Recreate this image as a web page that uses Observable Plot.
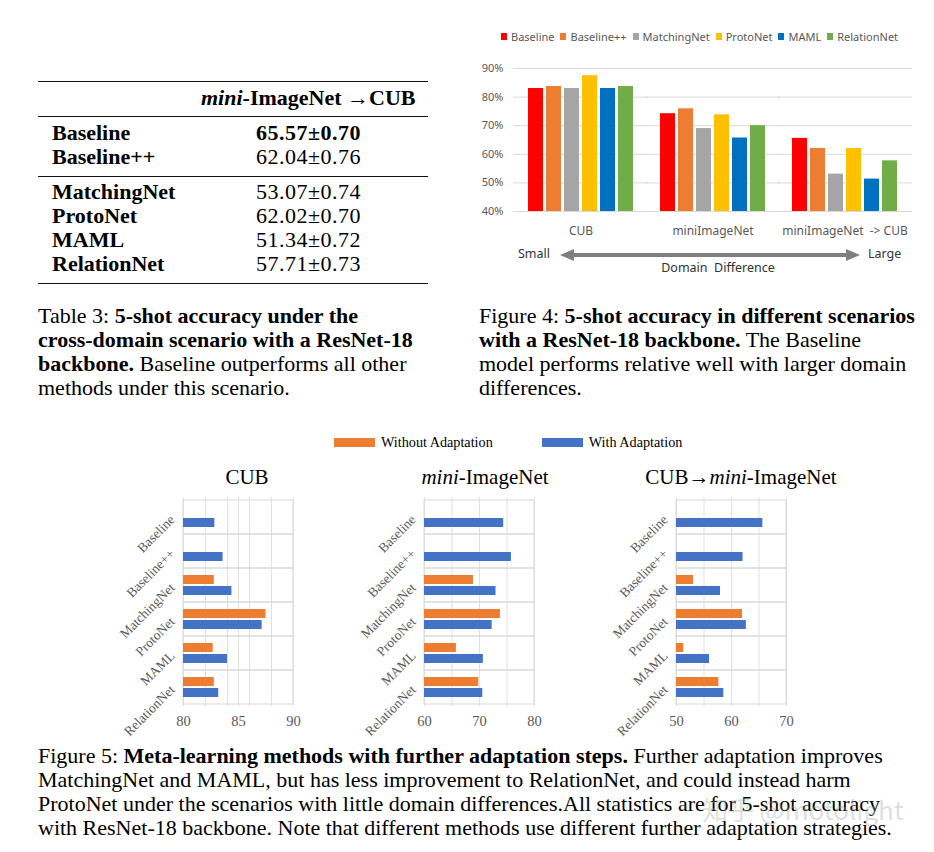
<!DOCTYPE html>
<html><head><meta charset="utf-8">
<script src="https://cdn.jsdelivr.net/npm/d3@7"></script>
<script src="https://cdn.jsdelivr.net/npm/@observablehq/plot@0.6"></script>
<style>
body{margin:0;background:#fff;}
#root{position:relative;width:934px;height:852px;overflow:hidden;font-family:"Liberation Serif","Times New Roman",serif;color:#000;background:#fff;}
.abs{position:absolute;white-space:nowrap;}
.cap{font-size:22px;line-height:24px;}
.rule{position:absolute;left:38px;width:390px;background:#111;}
.trow{position:absolute;font-size:22px;line-height:24px;white-space:nowrap;}
.val{letter-spacing:0.5px;}
.lg4{position:absolute;top:29px;left:501px;display:flex;align-items:center;font-family:"Noto Sans",sans-serif;font-size:11px;color:#595959;}
.lg4 span.sw{display:inline-block;width:6px;height:7px;margin-right:4px;}
.lg4 span.tx{margin-right:6px;}
.lg5{position:absolute;top:433px;font-size:14.2px;line-height:18px;display:flex;align-items:center;}
.lg5 span.sw{display:inline-block;width:41px;height:9px;margin-right:6px;}
.t5{position:absolute;top:464px;font-size:21px;line-height:26px;transform:translateX(-50%);white-space:nowrap;}
</style></head><body><div id="root"></div>
<script>
// ---------- data ----------
const methods = ["Baseline","Baseline++","MatchingNet","ProtoNet","MAML","RelationNet"];
const tableHeader = "mini-ImageNet →CUB";
const tableValues = ["65.57±0.70","62.04±0.76","53.07±0.74","62.02±0.70","51.34±0.72","57.71±0.73"];

const fig4Scenarios = ["CUB","miniImageNet","miniImageNet\u00a0 -> CUB"];
const fig4CUB = [83.0,83.7,83.0,87.5,83.0,83.7];
const fig4Mini = [74.2,75.9,69.0,73.8,65.7,70.0];
const fig4MiniToCUB = [65.57,62.04,53.07,62.02,51.34,57.71];
const fig4YTicks = [40,50,60,70,80,90];
const methodColors = ["#FF0000","#ED7D31","#A5A5A5","#FFC000","#0070C0","#70AD47"];

const fig5Series = ["Without Adaptation","With Adaptation"];
const fig5Colors = ["#ED7D31","#4472C4"];
const cubWithout = [null,null,82.8,87.5,82.7,82.8];
const cubWith = [82.85,83.6,84.4,87.15,84.0,83.2];
const miniWithout = [null,null,68.9,73.8,65.8,69.85];
const miniWith = [74.4,75.8,73.0,72.3,70.7,70.6];
const cubToMiniWithout = [null,null,53.1,62.0,51.3,57.7];
const cubToMiniWith = [65.7,62.1,58.0,62.7,56.0,58.6];
const cubDomain = [80,90], cubTicks = [80,85,90], cubGrid = [80,82,84,85,86,88,90];
const miniDomain = [60,80], miniTicks = [60,70,80], miniGrid = [60,65,70,75,80];
const cubToMiniDomain = [50,70], cubToMiniTicks = [50,60,70], cubToMiniGrid = [50,55,60,65,70];

const root = document.getElementById("root");
function el(tag, cls, html, style){const e=document.createElement(tag); if(cls) e.className=cls; if(html!=null) e.innerHTML=html; if(style) Object.assign(e.style,style); root.appendChild(e); return e;}

// ---------- Table 3 ----------
el("div","rule",null,{top:"80.5px",height:"1.6px"});
el("div","rule",null,{top:"116px",height:"1px"});
el("div","rule",null,{top:"175.5px",height:"1px"});
el("div","rule",null,{top:"282.5px",height:"1.6px"});
el("div","trow","<b><i>mini</i>-ImageNet →CUB</b>",{left:"201px",top:"86px"});
const rowTops = [121,145,180,204,228,252];
methods.forEach((m,i)=>{
  el("div","trow","<b>"+m+"</b>",{left:"52px",top:rowTops[i]+"px"});
  el("div","trow val", i===0? "<b>"+tableValues[i]+"</b>" : tableValues[i],{left:"256px",top:rowTops[i]+"px"});
});

// ---------- captions ----------
function caption(x, y, lines){
  lines.forEach((l,i)=> el("div","abs cap",l,{left:x+"px",top:(y+i*24)+"px"}));
}
caption(38,304,["Table 3: <b>5-shot accuracy under the</b>","<b>cross-domain scenario with a ResNet-18</b>","<b>backbone.</b> Baseline outperforms all other","methods under this scenario."]);
caption(479,304,["Figure 4: <b>5-shot accuracy in different scenarios</b>","<b>with a ResNet-18 backbone.</b> The Baseline","model performs relative well with larger domain","differences."]);
caption(38,744,["Figure 5: <b>Meta-learning methods with further adaptation steps.</b> Further adaptation improves","MatchingNet and MAML, but has less improvement to RelationNet, and could instead harm","ProtoNet under the scenarios with little domain differences.All statistics are for 5-shot accuracy","with ResNet-18 backbone. Note that different methods use different further adaptation strategies."]);
el("div","abs","知乎 @motolight",{left:"702px",top:"790px",fontFamily:"'Noto Sans CJK SC','Noto Sans',sans-serif",fontSize:"26px",color:"rgba(160,160,160,0.35)"});

// ---------- Figure 4 ----------
const lg4 = el("div","lg4");
methods.forEach((m,i)=>{ lg4.innerHTML += `<span class="sw" style="background:${methodColors[i]}"></span><span class="tx">${m}</span>`; });

const fig4Data = fig4Scenarios.flatMap((s,i)=> methods.map((m,j)=>({scenario:s, method:m, value:[fig4CUB,fig4Mini,fig4MiniToCUB][i][j]})));
const fig4 = Plot.plot({
  width:450, height:190, marginLeft:42, marginRight:8, marginTop:13, marginBottom:34,
  style:{fontFamily:"'Noto Sans',sans-serif", fontSize:"11px", color:"#595959", background:"transparent"},
  fx:{domain:fig4Scenarios, paddingInner:0.19, paddingOuter:0.106, label:null, axis:"bottom", tickSize:0, tickPadding:15},
  x:{domain:methods, paddingInner:0.14, paddingOuter:0, axis:null},
  y:{domain:[40,90], ticks:fig4YTicks, tickFormat:d=>d+"%", tickSize:0, tickPadding:24, label:null},
  color:{domain:methods, range:methodColors},
  marks:[
    Plot.ruleY(fig4YTicks,{stroke:"#d9d9d9", strokeWidth:1, insetLeft:-14, insetRight:-14}),
    Plot.barY(fig4Data,{fx:"scenario", x:"method", y1:40, y2:"value", fill:"method"})
  ]
});
Object.assign(fig4.style,{position:"absolute", left:"470px", top:"55px"});
fig4.querySelectorAll("text").forEach(t=>{ t.style.fontSize="11px"; });
fig4.querySelectorAll("[aria-label^='fx-axis'] text").forEach(t=>{ t.style.fontSize="12px"; });
root.appendChild(fig4);

// arrow annotation
el("div","abs",`<svg width="450" height="40" xmlns="http://www.w3.org/2000/svg">
<line x1="100" y1="15" x2="376" y2="15" stroke="#7f7f7f" stroke-width="4"/>
<polygon points="90,15 104,9 104,21" fill="#7f7f7f"/>
<polygon points="390,15 376,9 376,21" fill="#7f7f7f"/></svg>`,{left:"470px",top:"240px"});
el("div","abs","Small",{left:"518px",top:"245px",fontFamily:"'Noto Sans',sans-serif",fontSize:"12.5px",color:"#333"});
el("div","abs","Large",{left:"868px",top:"245px",fontFamily:"'Noto Sans',sans-serif",fontSize:"12.5px",color:"#333"});
el("div","abs","Domain&nbsp; Difference",{left:"718px",top:"259px",transform:"translateX(-50%)",fontFamily:"'Noto Sans',sans-serif",fontSize:"12.5px",color:"#333"});

// ---------- Figure 5 ----------
const lg5 = el("div","lg5",null,{left:"334px"});
lg5.innerHTML = `<span class="sw" style="background:${fig5Colors[0]}"></span><span style="margin-right:49px">${fig5Series[0]}</span><span class="sw" style="background:${fig5Colors[1]}"></span><span>${fig5Series[1]}</span>`;

el("div","t5","CUB",{left:"247px"});
el("div","t5","<i>mini</i>-ImageNet",{left:"485px"});
el("div","t5","CUB→<i>mini</i>-ImageNet",{left:"741px"});

function fig5Chart(without, withA, domain, ticks, grid, plotLeft){
  const data = [];
  methods.forEach((m,i)=>{
    if(without[i]!=null) data.push({method:m, series:fig5Series[0], value:without[i]});
    data.push({method:m, series:fig5Series[1], value:withA[i]});
  });
  const frames = methods.map(m=>({method:m}));
  const p = Plot.plot({
    width:230, height:254, marginLeft:100, marginRight:20, marginTop:7, marginBottom:38,
    style:{fontFamily:"'Liberation Serif',serif", fontSize:"13px", color:"#595959", background:"transparent"},
    x:{domain, ticks, tickSize:0, tickPadding:9, label:null},
    y:{domain:methods, padding:0, tickSize:0, tickPadding:11, tickRotate:-45, label:null},
    color:{domain:fig5Series, range:fig5Colors},
    marks:[
      Plot.ruleX(grid,{stroke:"#e0e0e0"}),
      Plot.barX(frames,{y:"method", x1:domain[0], x2:domain[1], fill:"none", stroke:"#d9d9d9"}),
      Plot.barX(data.filter(d=>d.series===fig5Series[0]),{y:"method", x1:domain[0], x2:"value", fill:"series", insetTop:7, insetBottom:18}),
      Plot.barX(data.filter(d=>d.series===fig5Series[1]),{y:"method", x1:domain[0], x2:"value", fill:"series", insetTop:18, insetBottom:7})
    ]
  });
  p.querySelectorAll("[aria-label^='x-axis'] text").forEach(t=>{ t.style.fontSize="14.5px"; });
  p.querySelectorAll("[aria-label^='y-axis'] text").forEach(t=>{ t.style.fontSize="13.5px"; });
  Object.assign(p.style,{position:"absolute", left:(plotLeft-100)+"px", top:"490px"});
  root.appendChild(p);
}
fig5Chart(cubWithout, cubWith, cubDomain, cubTicks, cubGrid, 183);
fig5Chart(miniWithout, miniWith, miniDomain, miniTicks, miniGrid, 424);
fig5Chart(cubToMiniWithout, cubToMiniWith, cubToMiniDomain, cubToMiniTicks, cubToMiniGrid, 676);
</script></body></html>
